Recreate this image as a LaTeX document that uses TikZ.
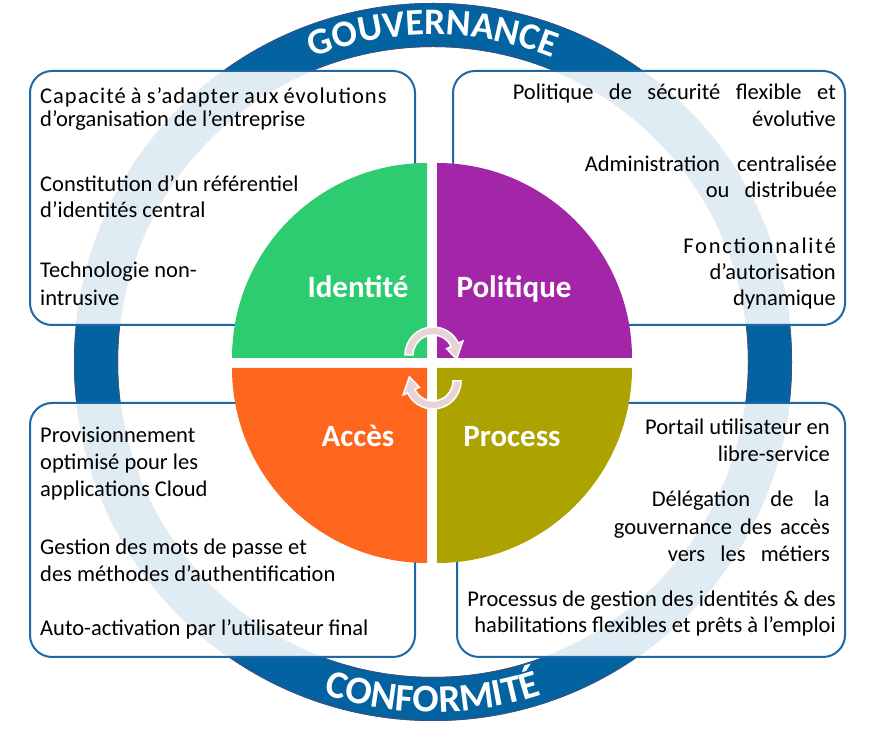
\documentclass[tikz,border=0pt]{standalone}
\usepackage{fontspec}
\setmainfont{Carlito}
\usetikzlibrary{decorations.text}

\definecolor{ringblue}{RGB}{2,99,160}
\definecolor{ringedge}{RGB}{58,80,128}
\definecolor{boxblue}{RGB}{30,105,165}
\definecolor{idgreen}{RGB}{46,204,113}
\definecolor{polpurple}{RGB}{163,38,168}
\definecolor{accorange}{RGB}{255,102,29}
\definecolor{procolive}{RGB}{172,162,0}
\definecolor{cyclepink}{RGB}{232,212,214}

\newcommand\ringfont{\bfseries\fontsize{37.5}{37.5}\selectfont}
\newcommand\ringfontb{\bfseries\fontsize{39}{39}\selectfont}
\newcommand\spreadline[2]{\makebox[#1][s]{\spaceskip=0pt\relax #2}}

\begin{document}
\begin{tikzpicture}[x=1pt,y=1pt,
    box/.style={draw=boxblue, line width=2pt, rounded corners=22pt, fill=white, fill opacity=0.88},
    feat/.style={inner sep=0pt, text width=400pt, font=\fontsize{22.5}{#1}\selectfont,
      execute at begin node={\spaceskip=\fontdimen2\font\relax}},
    quad/.style={font=\bfseries\fontsize{31}{31}\selectfont, text=white, anchor=base},
    cyclearrow/.style={fill=cyclepink, draw=white, line width=1.5pt}]
	\useasboundingbox (0,0) rectangle (879,733);

	% ring
	\fill[ringblue, even odd rule] (433,371) circle[radius=359pt] (433,371) circle[radius=315pt];
	\draw[ringedge, line width=1pt] (433,371) circle[radius=358.5pt] (433,371) circle[radius=315.5pt];
	\path[decorate, decoration={text along path, text={|\ringfont|GOUVERNANCE}, text align=center, text color=white}]
		([shift={(433,371)}]150:327pt) arc[start angle=150, end angle=30, radius=327pt];
	\path[decorate, decoration={text along path, text={|\ringfontb|CONFORMITÉ}, text align=center, text color=white}]
		([shift={(433,371)}]212:350pt) arc[start angle=212, end angle=328, radius=350pt];

	% boxes
	\draw[box] (30,408) rectangle (415,662);
	\draw[box] (453,408) rectangle (845,662);
	\draw[box] (30,76) rectangle (415,330);
	\draw[box] (457,76) rectangle (845,330);

	% quadrants
	\begin{scope}[shift={(432,370)}]
		\fill[idgreen] (-5,5) -- ++(180:195pt) arc[start angle=180, end angle=90, radius=195pt] -- cycle;
		\fill[polpurple] (5,5) -- ++(0:195pt) arc[start angle=0, end angle=90, radius=195pt] -- cycle;
		\fill[accorange] (-5,-5) -- ++(180:195pt) arc[start angle=180, end angle=270, radius=195pt] -- cycle;
		\fill[procolive] (5,-5) -- ++(0:195pt) arc[start angle=0, end angle=-90, radius=195pt] -- cycle;
	\end{scope}

	\node[quad] (identite) at (358,435) {Identité};
	\node[quad] (politique) at (514,435) {Politique};
	\node[quad] (acces) at (358,286) {Accès};
	\node[quad] (process) at (512,286) {Process};

	% cycle arrows
	\filldraw[cyclearrow, shift={(433,378)}] (180:28pt) arc[start angle=180, end angle=25, radius=28pt]
		-- (25:33pt) -- (-10:24pt) -- (25:15pt) -- (25:20pt) arc[start angle=25, end angle=180, radius=20pt] -- cycle;
	\filldraw[cyclearrow, shift={(433,352)}, rotate=180] (180:28pt) arc[start angle=180, end angle=25, radius=28pt]
		-- (25:33pt) -- (-10:24pt) -- (25:15pt) -- (25:20pt) arc[start angle=25, end angle=180, radius=20pt] -- cycle;

	% identite
	\node[feat=23, align=left, anchor=base west] (adapt) at (40,629) {{\addfontfeature{LetterSpace=4.5}Capacité à s’adapter aux évolutions}\\d’organisation de l’entreprise};
	\node[feat=26, align=left, anchor=base west] (referentiel) at (40,541) {Constitution d’un référentiel\\d’identités central};
	\node[feat=28, align=left, anchor=base west] (intrusive) at (40,455) {Technologie non-\\intrusive};

	% politique
	\node[feat=27, align=right, anchor=base east] (securite) at (836,633) {\spreadline{323pt}{Politique de sécurité flexible et}\\évolutive};
	\node[feat=26, align=right, anchor=base east] (admin) at (837,561) {\spreadline{252pt}{Administration centralisée}\\\spreadline{131pt}{ou distribuée}};
	\node[feat=26, align=right, anchor=base east] (autorisation) at (836,479) {{\addfontfeature{LetterSpace=8}Fonctionnalité}\\d’autorisation\\dynamique};

	% acces
	\node[feat=27, align=left, anchor=base west] (provision) at (40,290) {Provisionnement\\optimisé pour les\\applications Cloud};
	\node[feat=27, align=left, anchor=base west] (motspasse) at (40,178) {Gestion des mots de passe et\\des méthodes d’authentification};
	\node[feat=27, align=left, anchor=base west] (autoactiv) at (40,97) {Auto-activation par l’utilisateur final};

	% process
	\node[feat=27, align=right, anchor=base east] (portail) at (830,298) {Portail utilisateur en\\libre-service};
	\node[feat=27.5, align=right, anchor=base east] (delegation) at (830,226) {\spreadline{178pt}{Délégation de la}\\\spreadline{216pt}{gouvernance des accès}\\\spreadline{162pt}{vers les métiers}};
	\node[feat=26, align=right, anchor=base east] (habilitation) at (836,126) {Processus de gestion des identités \& des\\habilitations flexibles et prêts à l’emploi};
\end{tikzpicture}
\end{document}
